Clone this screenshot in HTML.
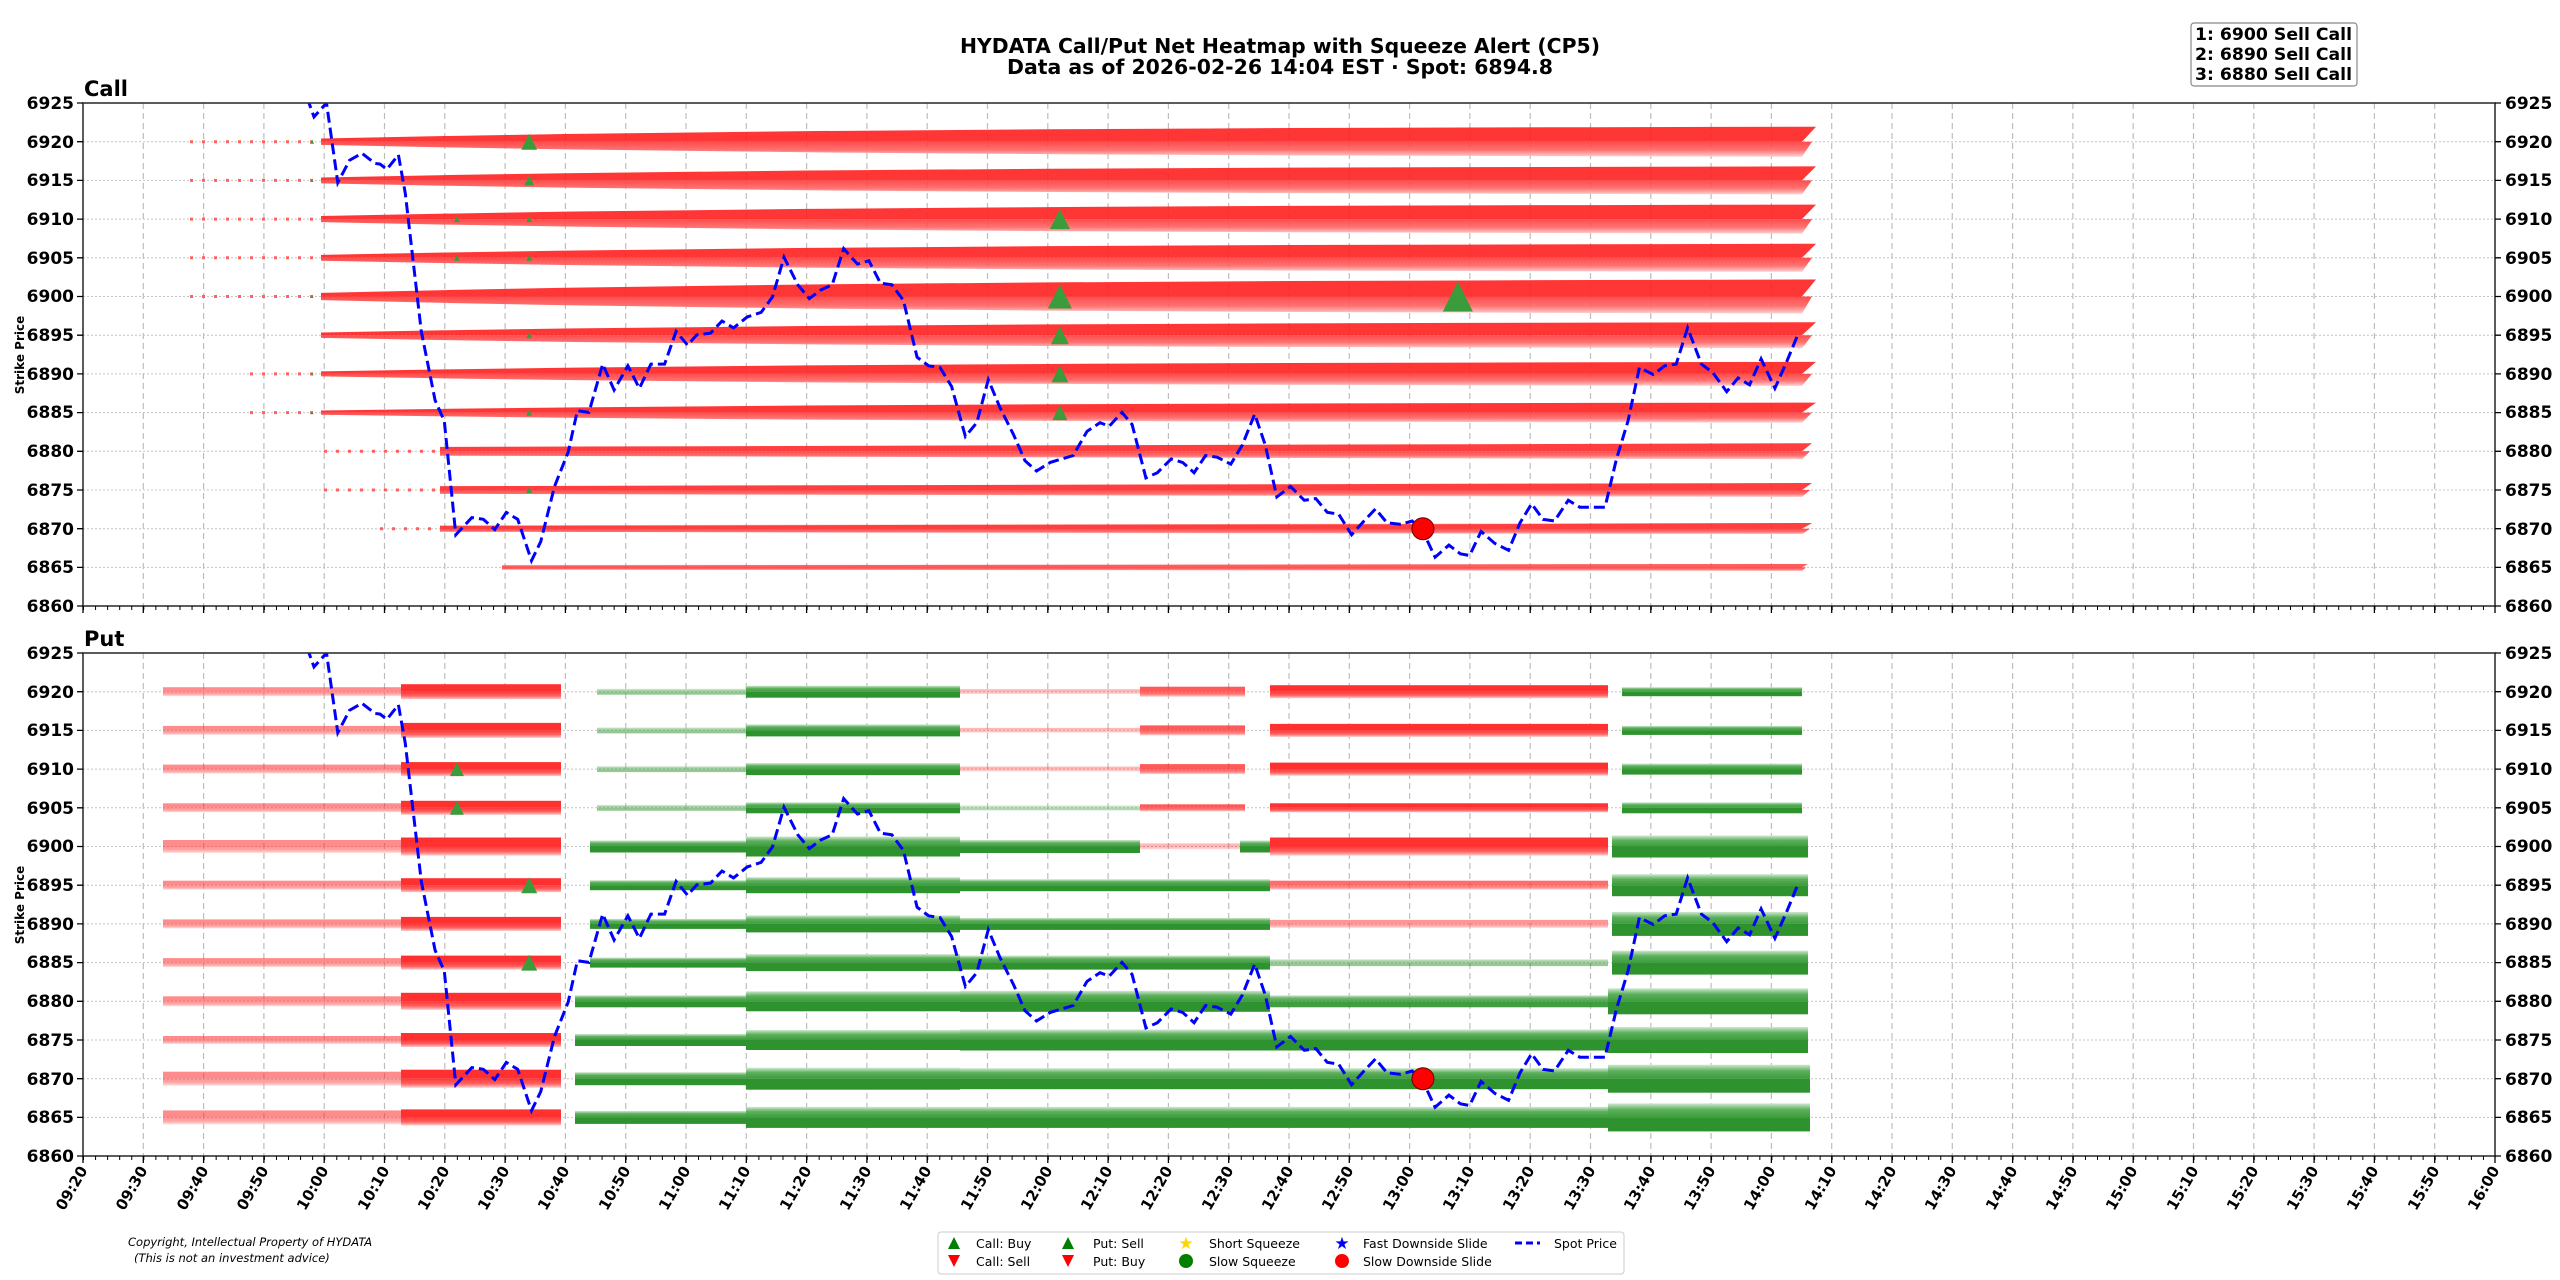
<!DOCTYPE html>
<html><head><meta charset="utf-8">
<style>
html,body{margin:0;padding:0;background:#fff;}
svg{display:block;}
.tk{font-family:"DejaVu Sans","Liberation Sans",sans-serif;font-weight:bold;font-size:17px;fill:#000;}
.tt{font-family:"DejaVu Sans","Liberation Sans",sans-serif;font-weight:bold;font-size:16px;fill:#000;}
.lg{font-family:"DejaVu Sans","Liberation Sans",sans-serif;font-size:12.5px;fill:#000;}
</style></head>
<body>
<svg width="2560" height="1280" viewBox="0 0 2560 1280" xmlns="http://www.w3.org/2000/svg" xmlns:xlink="http://www.w3.org/1999/xlink">
<rect width="2560" height="1280" fill="#fff"/>
<defs>
<clipPath id="cc"><rect x="83" y="103" width="2412" height="503"/></clipPath>
<clipPath id="cp"><rect x="83" y="653" width="2412" height="503"/></clipPath>
<linearGradient id="gR" x1="0" y1="0" x2="0" y2="1"><stop offset="0" stop-color="#ff3838"/><stop offset="0.55" stop-color="#ff6262"/><stop offset="1" stop-color="#ffcaca"/></linearGradient>
<linearGradient id="gG" x1="0" y1="1" x2="0" y2="0"><stop offset="0" stop-color="#3c9c3c"/><stop offset="0.55" stop-color="#5cb05c"/><stop offset="1" stop-color="#d0e8d0"/></linearGradient>
<g id="RD"><rect x="0" y="-0.5" width="1" height="0.5" fill="#ff3030"/><rect x="0" y="0" width="1" height="0.5" fill="url(#gR)"/></g>
<g id="GU"><rect x="0" y="0" width="1" height="0.5" fill="#2e922e"/><rect x="0" y="-0.5" width="1" height="0.5" fill="url(#gG)"/></g>
<polygon id="up" points="-0.5,0.5 0.5,0.5 0,-0.5"/>
<g id="CA"><polygon points="321,-0.21 445,-0.378 565,-0.513 807,-0.706 1048,-0.83 1289,-0.91 1545,-0.96 1802,-1 1816,-1 1802,0 321,0" fill="#ff2020"/><polygon points="321,0 1812,0 1802,1 1545,0.96 1289,0.91 1048,0.83 807,0.706 565,0.513 445,0.378 321,0.21" fill="url(#gR)"/></g>
<g id="CB"><polygon points="440,-0.55 1802,-1 1812,-1 1802,0 440,0" fill="#ff2a2a"/><polygon points="440,0 1810,0 1802,1 440,0.55" fill="url(#gR)"/></g>
<g id="CC"><polygon points="502,-0.6 1802,-1 1808,-1 1802,0 502,0" fill="#ff4a4a"/><polygon points="502,0 1806,0 1802,1 502,0.6" fill="url(#gR)"/></g>
<path id="spotpath" fill="none" stroke="#0000ff" stroke-width="3" stroke-dasharray="11 5" d="M230,637.5 L253,650.7 L300,645.3 L309,653 L314,666.9 L326.5,653 L337.8,732.7 L349.5,710.3 L362,703.3 L375,713.4 L380,714.1 L386.9,719.3 L398.4,704.8 L405.3,743.4 L412.1,802.1 L421.3,881.4 L435.1,950.3 L444.3,971 L455.8,1084.8 L471.8,1067.6 L483.3,1069.3 L494.8,1079.6 L506.3,1062.4 L517.7,1069.3 L531.5,1110.7 L540.7,1091.7 L554.5,1036.5 L568.2,1002 L577.4,960.7 L588.9,962.4 L602.7,914.1 L614.1,940 L627.9,915.8 L639.4,938.3 L650.9,914.1 L664.6,914.1 L676.1,881.4 L687.6,895.2 L696.8,884.8 L710.6,883.1 L722,871 L733.5,877.9 L747.3,866.9 L761.1,862.4 L772.5,846.9 L784,807.2 L797.8,834.8 L809.3,848.6 L820.7,840 L832.2,834.8 L843.7,798.6 L857.5,814.1 L868.9,810.7 L880.4,833.1 L891.9,834.8 L903.4,850.3 L917.1,907.2 L928.6,915.8 L940.1,917.6 L951.6,936.5 L965.4,986.5 L976.8,972.7 L988.3,929.6 L999.8,957.2 L1013.6,984.8 L1025,1010.7 L1036.5,1021 L1050.3,1012.4 L1073.2,1005.5 L1087,981.4 L1100,972.7 L1109.2,976.2 L1122,962.4 L1132.1,974.5 L1145.9,1027.9 L1157.4,1022.7 L1171.2,1008.9 L1182.6,1012.4 L1194.1,1022.7 L1205.6,1005.5 L1217.1,1007.2 L1230.8,1014.1 L1242.3,995.1 L1254.7,964.1 L1265.3,995.1 L1276.8,1046.9 L1290.5,1036.5 L1304.3,1050.3 L1315.8,1048.6 L1327.3,1062.4 L1338.7,1064.1 L1351.6,1084.8 L1364,1071 L1375.5,1058.9 L1386.9,1072.7 L1400.7,1074.4 L1412.2,1071 L1423.7,1083.1 L1435.1,1107.2 L1448.9,1095.1 L1460.4,1103.8 L1469.6,1105.5 L1481.1,1081.4 L1494.8,1093.4 L1508.6,1100.3 L1520.1,1072.7 L1531.6,1053.8 L1543,1069.3 L1554.5,1071 L1568.3,1050.3 L1579.8,1057.2 L1605,1057.2 L1616.5,1008.9 L1628,971 L1639.4,917.6 L1653.2,924.5 L1664.7,915.8 L1676.2,914.1 L1687.6,877.9 L1701.4,914.1 L1712.9,922.7 L1726.7,941.7 L1738.1,927.9 L1749.6,934.8 L1761.1,908.9 L1774.9,938.3 L1786.4,912.4 L1797.8,884.8"/>
</defs>

<!-- grid -->
<g stroke="#bdbdbd" stroke-width="1.2" stroke-dasharray="6 4">
<path d="M143.3,103V606M203.6,103V606M263.9,103V606M324.2,103V606M384.5,103V606M444.8,103V606M505.1,103V606M565.4,103V606M625.7,103V606M686,103V606M746.3,103V606M806.6,103V606M866.9,103V606M927.2,103V606M987.5,103V606M1047.8,103V606M1108.1,103V606M1168.4,103V606M1228.7,103V606M1289,103V606M1349.3,103V606M1409.6,103V606M1469.9,103V606M1530.2,103V606M1590.5,103V606M1650.8,103V606M1711.1,103V606M1771.4,103V606M1831.7,103V606M1892,103V606M1952.3,103V606M2012.6,103V606M2072.9,103V606M2133.2,103V606M2193.5,103V606M2253.8,103V606M2314.1,103V606M2374.4,103V606M2434.7,103V606"/>
<path transform="translate(0,550)" d="M143.3,103V606M203.6,103V606M263.9,103V606M324.2,103V606M384.5,103V606M444.8,103V606M505.1,103V606M565.4,103V606M625.7,103V606M686,103V606M746.3,103V606M806.6,103V606M866.9,103V606M927.2,103V606M987.5,103V606M1047.8,103V606M1108.1,103V606M1168.4,103V606M1228.7,103V606M1289,103V606M1349.3,103V606M1409.6,103V606M1469.9,103V606M1530.2,103V606M1590.5,103V606M1650.8,103V606M1711.1,103V606M1771.4,103V606M1831.7,103V606M1892,103V606M1952.3,103V606M2012.6,103V606M2072.9,103V606M2133.2,103V606M2193.5,103V606M2253.8,103V606M2314.1,103V606M2374.4,103V606M2434.7,103V606"/>
</g>
<g stroke="#c4c4c4" stroke-width="1" stroke-dasharray="2 2">
<path d="M83,141.7H2495M83,180.4H2495M83,219.1H2495M83,257.8H2495M83,296.5H2495M83,335.2H2495M83,373.9H2495M83,412.6H2495M83,451.3H2495M83,490H2495M83,528.7H2495M83,567.4H2495"/>
<path transform="translate(0,550)" d="M83,141.7H2495M83,180.4H2495M83,219.1H2495M83,257.8H2495M83,296.5H2495M83,335.2H2495M83,373.9H2495M83,412.6H2495M83,451.3H2495M83,490H2495M83,528.7H2495M83,567.4H2495"/>
</g>

<!-- CALL markers -->
<g stroke="#ff6060" stroke-width="3" stroke-dasharray="3 9">
<path d="M190,141.7H316M190,180.4H316M190,219.1H316M190,257.8H316M190,296.5H316M250,373.9H316M250,412.6H316"/>
<path d="M324,451.3H440M324,490H440M380,528.7H440"/>
</g>
<g opacity="0.9">
<use href="#CA" xlink:href="#CA" transform="translate(0,141.7) scale(1,15)"/>
<use href="#CA" xlink:href="#CA" transform="translate(0,180.4) scale(1,14)"/>
<use href="#CA" xlink:href="#CA" transform="translate(0,219.1) scale(1,14.5)"/>
<use href="#CA" xlink:href="#CA" transform="translate(0,257.8) scale(1,14)"/>
<use href="#CA" xlink:href="#CA" transform="translate(0,296.5) scale(1,17)"/>
<use href="#CA" xlink:href="#CA" transform="translate(0,335.2) scale(1,13)"/>
<use href="#CA" xlink:href="#CA" transform="translate(0,373.9) scale(1,12)"/>
<use href="#CA" xlink:href="#CA" transform="translate(0,412.6) scale(1,10)"/>
<use href="#CB" xlink:href="#CB" transform="translate(0,451.3) scale(1,8)"/>
<use href="#CB" xlink:href="#CB" transform="translate(0,490) scale(1,7)"/>
<use href="#CB" xlink:href="#CB" transform="translate(0,528.7) scale(1,5.5)"/>
<use href="#CC" xlink:href="#CC" transform="translate(0,567.4) scale(1,3.5)"/>
</g>
<g fill="#3a9c3a">
<use href="#up" xlink:href="#up" transform="translate(312.1,141.7) scale(4)"/>
<use href="#up" xlink:href="#up" transform="translate(312.1,180.4) scale(3)"/>
<use href="#up" xlink:href="#up" transform="translate(312.1,296.5) scale(3)"/>
<use href="#up" xlink:href="#up" transform="translate(312.1,373.9) scale(3)"/>
<use href="#up" xlink:href="#up" transform="translate(312.1,412.6) scale(3)"/>
<use href="#up" xlink:href="#up" transform="translate(456.9,219.1) scale(6)"/>
<use href="#up" xlink:href="#up" transform="translate(456.9,257.8) scale(6)"/>
<use href="#up" xlink:href="#up" transform="translate(529.2,141.7) scale(16)"/>
<use href="#up" xlink:href="#up" transform="translate(529.2,180.4) scale(10)"/>
<use href="#up" xlink:href="#up" transform="translate(529.2,219.1) scale(6)"/>
<use href="#up" xlink:href="#up" transform="translate(529.2,257.8) scale(6)"/>
<use href="#up" xlink:href="#up" transform="translate(529.2,335.2) scale(6)"/>
<use href="#up" xlink:href="#up" transform="translate(529.2,412.6) scale(6)"/>
<use href="#up" xlink:href="#up" transform="translate(529.2,490) scale(6)"/>
<use href="#up" xlink:href="#up" transform="translate(1059.9,219.1) scale(20)"/>
<use href="#up" xlink:href="#up" transform="translate(1059.9,296.5) scale(24)"/>
<use href="#up" xlink:href="#up" transform="translate(1059.9,335.2) scale(18)"/>
<use href="#up" xlink:href="#up" transform="translate(1059.9,373.9) scale(17)"/>
<use href="#up" xlink:href="#up" transform="translate(1059.9,412.6) scale(15)"/>
<use href="#up" xlink:href="#up" transform="translate(1457.8,296.5) scale(30)"/>
</g>

<!-- PUT markers -->
<g opacity="0.55">
<use href="#RD" xlink:href="#RD" transform="translate(163,691.7) scale(238,9)"/>
<use href="#RD" xlink:href="#RD" transform="translate(163,730.4) scale(238,9)"/>
<use href="#RD" xlink:href="#RD" transform="translate(163,769.1) scale(238,9)"/>
<use href="#RD" xlink:href="#RD" transform="translate(163,807.8) scale(238,9)"/>
<use href="#RD" xlink:href="#RD" transform="translate(163,846.5) scale(238,13)"/>
<use href="#RD" xlink:href="#RD" transform="translate(163,885.2) scale(238,9)"/>
<use href="#RD" xlink:href="#RD" transform="translate(163,923.9) scale(238,9)"/>
<use href="#RD" xlink:href="#RD" transform="translate(163,962.6) scale(238,9)"/>
<use href="#RD" xlink:href="#RD" transform="translate(163,1001.3) scale(238,10)"/>
<use href="#RD" xlink:href="#RD" transform="translate(163,1040) scale(238,8)"/>
<use href="#RD" xlink:href="#RD" transform="translate(163,1078.7) scale(238,14)"/>
<use href="#RD" xlink:href="#RD" transform="translate(163,1117.4) scale(238,14)"/>
</g>
<g>
<use href="#RD" xlink:href="#RD" transform="translate(401,691.7) scale(160,15)"/>
<use href="#RD" xlink:href="#RD" transform="translate(401,730.4) scale(160,15)"/>
<use href="#RD" xlink:href="#RD" transform="translate(401,769.1) scale(160,14)"/>
<use href="#RD" xlink:href="#RD" transform="translate(401,807.8) scale(160,14)"/>
<use href="#RD" xlink:href="#RD" transform="translate(401,846.5) scale(160,18)"/>
<use href="#RD" xlink:href="#RD" transform="translate(401,885.2) scale(160,14)"/>
<use href="#RD" xlink:href="#RD" transform="translate(401,923.9) scale(160,14)"/>
<use href="#RD" xlink:href="#RD" transform="translate(401,962.6) scale(160,14)"/>
<use href="#RD" xlink:href="#RD" transform="translate(401,1001.3) scale(160,17)"/>
<use href="#RD" xlink:href="#RD" transform="translate(401,1040) scale(160,14)"/>
<use href="#RD" xlink:href="#RD" transform="translate(401,1078.7) scale(160,18)"/>
<use href="#RD" xlink:href="#RD" transform="translate(401,1117.4) scale(160,16)"/>
</g>
<g fill="#3a9c3a">
<use href="#up" xlink:href="#up" transform="translate(456.9,769.1) scale(14)"/>
<use href="#up" xlink:href="#up" transform="translate(456.9,807.8) scale(14)"/>
<use href="#up" xlink:href="#up" transform="translate(529.2,885.2) scale(16)"/>
<use href="#up" xlink:href="#up" transform="translate(529.2,962.6) scale(16)"/>
</g>
<g opacity="0.5">
<use href="#GU" xlink:href="#GU" transform="translate(597,691.7) scale(149,6)"/>
<use href="#GU" xlink:href="#GU" transform="translate(597,730.4) scale(149,6)"/>
<use href="#GU" xlink:href="#GU" transform="translate(597,769.1) scale(149,6)"/>
<use href="#GU" xlink:href="#GU" transform="translate(597,807.8) scale(149,6)"/>
</g>
<g>
<use href="#GU" xlink:href="#GU" transform="translate(590,846.5) scale(156,12)"/>
<use href="#GU" xlink:href="#GU" transform="translate(590,885.2) scale(156,10)"/>
<use href="#GU" xlink:href="#GU" transform="translate(590,923.9) scale(156,10)"/>
<use href="#GU" xlink:href="#GU" transform="translate(590,962.6) scale(156,10)"/>
<use href="#GU" xlink:href="#GU" transform="translate(575,1001.3) scale(171,12)"/>
<use href="#GU" xlink:href="#GU" transform="translate(575,1040) scale(171,12)"/>
<use href="#GU" xlink:href="#GU" transform="translate(575,1078.7) scale(171,13)"/>
<use href="#GU" xlink:href="#GU" transform="translate(575,1117.4) scale(171,13)"/>
<use href="#GU" xlink:href="#GU" transform="translate(746,691.7) scale(214,12)"/>
<use href="#GU" xlink:href="#GU" transform="translate(746,730.4) scale(214,12)"/>
<use href="#GU" xlink:href="#GU" transform="translate(746,769.1) scale(214,12)"/>
<use href="#GU" xlink:href="#GU" transform="translate(746,807.8) scale(214,11)"/>
<use href="#GU" xlink:href="#GU" transform="translate(746,846.5) scale(214,20)"/>
<use href="#GU" xlink:href="#GU" transform="translate(746,885.2) scale(214,16)"/>
<use href="#GU" xlink:href="#GU" transform="translate(746,923.9) scale(214,17)"/>
<use href="#GU" xlink:href="#GU" transform="translate(746,962.6) scale(214,17)"/>
<use href="#GU" xlink:href="#GU" transform="translate(746,1001.3) scale(214,20)"/>
<use href="#GU" xlink:href="#GU" transform="translate(746,1040) scale(214,20)"/>
<use href="#GU" xlink:href="#GU" transform="translate(746,1078.7) scale(214,22)"/>
<use href="#GU" xlink:href="#GU" transform="translate(746,1117.4) scale(214,21)"/>
</g>
<g opacity="0.35">
<use href="#RD" xlink:href="#RD" transform="translate(960,691.7) scale(180,5)"/>
<use href="#RD" xlink:href="#RD" transform="translate(960,730.4) scale(180,5)"/>
<use href="#RD" xlink:href="#RD" transform="translate(960,769.1) scale(180,5)"/>
<use href="#GU" xlink:href="#GU" transform="translate(960,807.8) scale(180,5)"/>
<use href="#RD" xlink:href="#RD" transform="translate(1140,846.5) scale(100,6)"/>
</g>
<g opacity="0.8">
<use href="#RD" xlink:href="#RD" transform="translate(1140,691.7) scale(105,10)"/>
<use href="#RD" xlink:href="#RD" transform="translate(1140,730.4) scale(105,10)"/>
<use href="#RD" xlink:href="#RD" transform="translate(1140,769.1) scale(105,10)"/>
<use href="#RD" xlink:href="#RD" transform="translate(1140,807.8) scale(105,7)"/>
</g>
<g>
<use href="#GU" xlink:href="#GU" transform="translate(960,846.5) scale(180,13)"/>
<use href="#GU" xlink:href="#GU" transform="translate(1240,846.5) scale(30,12)"/>
<use href="#GU" xlink:href="#GU" transform="translate(960,885.2) scale(310,12)"/>
<use href="#GU" xlink:href="#GU" transform="translate(960,923.9) scale(310,12)"/>
<use href="#GU" xlink:href="#GU" transform="translate(960,962.6) scale(310,14)"/>
<use href="#GU" xlink:href="#GU" transform="translate(960,1001.3) scale(310,21)"/>
<use href="#GU" xlink:href="#GU" transform="translate(960,1040) scale(310,21)"/>
<use href="#GU" xlink:href="#GU" transform="translate(960,1078.7) scale(310,21)"/>
<use href="#GU" xlink:href="#GU" transform="translate(960,1117.4) scale(310,21)"/>
</g>
<g>
<use href="#RD" xlink:href="#RD" transform="translate(1270,691.7) scale(338,13)"/>
<use href="#RD" xlink:href="#RD" transform="translate(1270,730.4) scale(338,13)"/>
<use href="#RD" xlink:href="#RD" transform="translate(1270,769.1) scale(338,13)"/>
<use href="#RD" xlink:href="#RD" transform="translate(1270,807.8) scale(338,9)"/>
<use href="#RD" xlink:href="#RD" transform="translate(1270,846.5) scale(338,18)"/>
<use href="#RD" xlink:href="#RD" transform="translate(1270,885.2) scale(338,9)" opacity="0.7"/>
<use href="#RD" xlink:href="#RD" transform="translate(1270,923.9) scale(338,8)" opacity="0.5"/>
<use href="#GU" xlink:href="#GU" transform="translate(1270,962.6) scale(338,7)" opacity="0.5"/>
<use href="#GU" xlink:href="#GU" transform="translate(1270,1001.3) scale(338,12)" opacity="0.9"/>
<use href="#GU" xlink:href="#GU" transform="translate(1270,1040) scale(338,21)"/>
<use href="#GU" xlink:href="#GU" transform="translate(1270,1078.7) scale(338,21)"/>
<use href="#GU" xlink:href="#GU" transform="translate(1270,1117.4) scale(338,21)"/>
</g>
<g>
<use href="#GU" xlink:href="#GU" transform="translate(1622,691.7) scale(180,9)"/>
<use href="#GU" xlink:href="#GU" transform="translate(1622,730.4) scale(180,9)"/>
<use href="#GU" xlink:href="#GU" transform="translate(1622,769.1) scale(180,11)"/>
<use href="#GU" xlink:href="#GU" transform="translate(1622,807.8) scale(180,11)"/>
<use href="#GU" xlink:href="#GU" transform="translate(1612,846.5) scale(196,22)"/>
<use href="#GU" xlink:href="#GU" transform="translate(1612,885.2) scale(196,22)"/>
<use href="#GU" xlink:href="#GU" transform="translate(1612,923.9) scale(196,24)"/>
<use href="#GU" xlink:href="#GU" transform="translate(1612,962.6) scale(196,24)"/>
<use href="#GU" xlink:href="#GU" transform="translate(1608,1001.3) scale(200,26)"/>
<use href="#GU" xlink:href="#GU" transform="translate(1608,1040) scale(200,26)"/>
<use href="#GU" xlink:href="#GU" transform="translate(1608,1078.7) scale(202,28)"/>
<use href="#GU" xlink:href="#GU" transform="translate(1608,1117.4) scale(202,28)"/>
</g>

<g clip-path="url(#cp)"><use href="#spotpath" xlink:href="#spotpath"/></g>
<g clip-path="url(#cc)"><g transform="translate(0,-550)"><use href="#spotpath" xlink:href="#spotpath"/></g></g>

<circle cx="1422.9" cy="528.7" r="11" fill="#ff0000" stroke="#600" stroke-width="1"/>
<circle cx="1422.9" cy="1078.7" r="11" fill="#ff0000" stroke="#600" stroke-width="1"/>

<g fill="none" stroke="#333" stroke-width="1.6">
<rect x="83" y="103" width="2412" height="503"/>
<rect x="83" y="653" width="2412" height="503"/>
</g>
<g stroke="#000" stroke-width="1.3">
<path d="M77,103H83M77,141.7H83M77,180.4H83M77,219.1H83M77,257.8H83M77,296.5H83M77,335.2H83M77,373.9H83M77,412.6H83M77,451.3H83M77,490H83M77,528.7H83M77,567.4H83M77,606H83 M2495,103H2501M2495,141.7H2501M2495,180.4H2501M2495,219.1H2501M2495,257.8H2501M2495,296.5H2501M2495,335.2H2501M2495,373.9H2501M2495,412.6H2501M2495,451.3H2501M2495,490H2501M2495,528.7H2501M2495,567.4H2501M2495,606H2501"/>
<path transform="translate(0,550)" d="M77,103H83M77,141.7H83M77,180.4H83M77,219.1H83M77,257.8H83M77,296.5H83M77,335.2H83M77,373.9H83M77,412.6H83M77,451.3H83M77,490H83M77,528.7H83M77,567.4H83M77,606H83 M2495,103H2501M2495,141.7H2501M2495,180.4H2501M2495,219.1H2501M2495,257.8H2501M2495,296.5H2501M2495,335.2H2501M2495,373.9H2501M2495,412.6H2501M2495,451.3H2501M2495,490H2501M2495,528.7H2501M2495,567.4H2501M2495,606H2501"/>
<path d="M83,606v7M143.3,606v7M203.6,606v7M263.9,606v7M324.2,606v7M384.5,606v7M444.8,606v7M505.1,606v7M565.4,606v7M625.7,606v7M686,606v7M746.3,606v7M806.6,606v7M866.9,606v7M927.2,606v7M987.5,606v7M1047.8,606v7M1108.1,606v7M1168.4,606v7M1228.7,606v7M1289,606v7M1349.3,606v7M1409.6,606v7M1469.9,606v7M1530.2,606v7M1590.5,606v7M1650.8,606v7M1711.1,606v7M1771.4,606v7M1831.7,606v7M1892,606v7M1952.3,606v7M2012.6,606v7M2072.9,606v7M2133.2,606v7M2193.5,606v7M2253.8,606v7M2314.1,606v7M2374.4,606v7M2434.7,606v7M2495,606v7"/>
<path transform="translate(0,550)" d="M83,606v7M143.3,606v7M203.6,606v7M263.9,606v7M324.2,606v7M384.5,606v7M444.8,606v7M505.1,606v7M565.4,606v7M625.7,606v7M686,606v7M746.3,606v7M806.6,606v7M866.9,606v7M927.2,606v7M987.5,606v7M1047.8,606v7M1108.1,606v7M1168.4,606v7M1228.7,606v7M1289,606v7M1349.3,606v7M1409.6,606v7M1469.9,606v7M1530.2,606v7M1590.5,606v7M1650.8,606v7M1711.1,606v7M1771.4,606v7M1831.7,606v7M1892,606v7M1952.3,606v7M2012.6,606v7M2072.9,606v7M2133.2,606v7M2193.5,606v7M2253.8,606v7M2314.1,606v7M2374.4,606v7M2434.7,606v7M2495,606v7"/>
</g>
<g stroke="#000" stroke-dasharray="1 11.06" stroke-dashoffset="-12.06">
<line x1="83" y1="608" x2="2495" y2="608" stroke-width="4"/>
<line x1="83" y1="1158" x2="2495" y2="1158" stroke-width="4"/>
</g>

<text x="1280" y="53" text-anchor="middle" class="tt" style="font-size:20px" textLength="640" lengthAdjust="spacingAndGlyphs">HYDATA Call/Put Net Heatmap with Squeeze Alert (CP5)</text>
<text x="1280" y="74" text-anchor="middle" class="tt" style="font-size:20px" textLength="546" lengthAdjust="spacingAndGlyphs">Data as of 2026-02-26 14:04 EST · Spot: 6894.8</text>
<text x="84" y="96" class="tt" style="font-size:21px">Call</text>
<text x="84" y="646" class="tt" style="font-size:21px">Put</text>
<text transform="translate(24,355) rotate(-90)" text-anchor="middle" class="tt" style="font-size:12px">Strike Price</text>
<text transform="translate(24,905) rotate(-90)" text-anchor="middle" class="tt" style="font-size:12px">Strike Price</text>

<rect x="2191" y="23" width="166" height="63" rx="3" fill="#fff" stroke="#888" stroke-width="1.2"/>
<text x="2195" y="40" class="tt" style="font-size:17px" textLength="157" lengthAdjust="spacingAndGlyphs">1: 6900 Sell Call</text>
<text x="2195" y="60" class="tt" style="font-size:17px" textLength="157" lengthAdjust="spacingAndGlyphs">2: 6890 Sell Call</text>
<text x="2195" y="80" class="tt" style="font-size:17px" textLength="157" lengthAdjust="spacingAndGlyphs">3: 6880 Sell Call</text>

<g class="tk" text-anchor="end">
<text x="74" y="109">6925</text><text x="74" y="148">6920</text><text x="74" y="186">6915</text><text x="74" y="225">6910</text><text x="74" y="264">6905</text><text x="74" y="302">6900</text><text x="74" y="341">6895</text><text x="74" y="380">6890</text><text x="74" y="418">6885</text><text x="74" y="457">6880</text><text x="74" y="496">6875</text><text x="74" y="535">6870</text><text x="74" y="573">6865</text><text x="74" y="612">6860</text>
<text x="74" y="659">6925</text><text x="74" y="698">6920</text><text x="74" y="736">6915</text><text x="74" y="775">6910</text><text x="74" y="814">6905</text><text x="74" y="852">6900</text><text x="74" y="891">6895</text><text x="74" y="930">6890</text><text x="74" y="968">6885</text><text x="74" y="1007">6880</text><text x="74" y="1046">6875</text><text x="74" y="1085">6870</text><text x="74" y="1123">6865</text><text x="74" y="1162">6860</text>
</g>
<g class="tk" text-anchor="start">
<text x="2505" y="109">6925</text><text x="2505" y="148">6920</text><text x="2505" y="186">6915</text><text x="2505" y="225">6910</text><text x="2505" y="264">6905</text><text x="2505" y="302">6900</text><text x="2505" y="341">6895</text><text x="2505" y="380">6890</text><text x="2505" y="418">6885</text><text x="2505" y="457">6880</text><text x="2505" y="496">6875</text><text x="2505" y="535">6870</text><text x="2505" y="573">6865</text><text x="2505" y="612">6860</text>
<text x="2505" y="659">6925</text><text x="2505" y="698">6920</text><text x="2505" y="736">6915</text><text x="2505" y="775">6910</text><text x="2505" y="814">6905</text><text x="2505" y="852">6900</text><text x="2505" y="891">6895</text><text x="2505" y="930">6890</text><text x="2505" y="968">6885</text><text x="2505" y="1007">6880</text><text x="2505" y="1046">6875</text><text x="2505" y="1085">6870</text><text x="2505" y="1123">6865</text><text x="2505" y="1162">6860</text>
</g>

<g class="tk" style="font-size:15px" text-anchor="end">
<text transform="translate(88,1170) rotate(-60)">09:20</text>
<text transform="translate(148,1170) rotate(-60)">09:30</text>
<text transform="translate(209,1170) rotate(-60)">09:40</text>
<text transform="translate(269,1170) rotate(-60)">09:50</text>
<text transform="translate(329,1170) rotate(-60)">10:00</text>
<text transform="translate(390,1170) rotate(-60)">10:10</text>
<text transform="translate(450,1170) rotate(-60)">10:20</text>
<text transform="translate(510,1170) rotate(-60)">10:30</text>
<text transform="translate(570,1170) rotate(-60)">10:40</text>
<text transform="translate(631,1170) rotate(-60)">10:50</text>
<text transform="translate(691,1170) rotate(-60)">11:00</text>
<text transform="translate(751,1170) rotate(-60)">11:10</text>
<text transform="translate(812,1170) rotate(-60)">11:20</text>
<text transform="translate(872,1170) rotate(-60)">11:30</text>
<text transform="translate(932,1170) rotate(-60)">11:40</text>
<text transform="translate(993,1170) rotate(-60)">11:50</text>
<text transform="translate(1053,1170) rotate(-60)">12:00</text>
<text transform="translate(1113,1170) rotate(-60)">12:10</text>
<text transform="translate(1173,1170) rotate(-60)">12:20</text>
<text transform="translate(1234,1170) rotate(-60)">12:30</text>
<text transform="translate(1294,1170) rotate(-60)">12:40</text>
<text transform="translate(1354,1170) rotate(-60)">12:50</text>
<text transform="translate(1415,1170) rotate(-60)">13:00</text>
<text transform="translate(1475,1170) rotate(-60)">13:10</text>
<text transform="translate(1535,1170) rotate(-60)">13:20</text>
<text transform="translate(1596,1170) rotate(-60)">13:30</text>
<text transform="translate(1656,1170) rotate(-60)">13:40</text>
<text transform="translate(1716,1170) rotate(-60)">13:50</text>
<text transform="translate(1776,1170) rotate(-60)">14:00</text>
<text transform="translate(1837,1170) rotate(-60)">14:10</text>
<text transform="translate(1897,1170) rotate(-60)">14:20</text>
<text transform="translate(1957,1170) rotate(-60)">14:30</text>
<text transform="translate(2018,1170) rotate(-60)">14:40</text>
<text transform="translate(2078,1170) rotate(-60)">14:50</text>
<text transform="translate(2138,1170) rotate(-60)">15:00</text>
<text transform="translate(2199,1170) rotate(-60)">15:10</text>
<text transform="translate(2259,1170) rotate(-60)">15:20</text>
<text transform="translate(2319,1170) rotate(-60)">15:30</text>
<text transform="translate(2379,1170) rotate(-60)">15:40</text>
<text transform="translate(2440,1170) rotate(-60)">15:50</text>
<text transform="translate(2500,1170) rotate(-60)">16:00</text>
</g>

<text x="128" y="1246" class="lg" style="font-style:italic;font-size:11.5px">Copyright, Intellectual Property of HYDATA</text>
<text x="134" y="1262" class="lg" style="font-style:italic;font-size:11.5px">(This is not an investment advice)</text>

<rect x="938" y="1232" width="686" height="42" rx="3" fill="#fff" stroke="#ccc" stroke-width="1"/>
<polygon points="948,1249 960,1249 954,1237" fill="#008000"/>
<text x="976" y="1248" class="lg">Call: Buy</text>
<polygon points="948,1255 960,1255 954,1267" fill="#ff0000"/>
<text x="976" y="1266" class="lg">Call: Sell</text>
<polygon points="1062,1249 1074,1249 1068,1237" fill="#008000"/>
<text x="1093" y="1248" class="lg">Put: Sell</text>
<polygon points="1062,1255 1074,1255 1068,1267" fill="#ff0000"/>
<text x="1093" y="1266" class="lg">Put: Buy</text>
<text x="1186" y="1249" text-anchor="middle" style="font-size:17px;fill:#ffd700;font-family:'DejaVu Sans',sans-serif">★</text>
<text x="1209" y="1248" class="lg">Short Squeeze</text>
<circle cx="1186" cy="1261" r="7" fill="#008000"/>
<text x="1209" y="1266" class="lg">Slow Squeeze</text>
<text x="1342" y="1249" text-anchor="middle" style="font-size:17px;fill:#0000ff;font-family:'DejaVu Sans',sans-serif">★</text>
<text x="1363" y="1248" class="lg">Fast Downside Slide</text>
<circle cx="1342" cy="1261" r="7" fill="#ff0000"/>
<text x="1363" y="1266" class="lg">Slow Downside Slide</text>
<line x1="1515" y1="1243" x2="1540" y2="1243" stroke="#0000ff" stroke-width="3" stroke-dasharray="7 4"/>
<text x="1554" y="1248" class="lg">Spot Price</text>
</svg>
</body></html>
